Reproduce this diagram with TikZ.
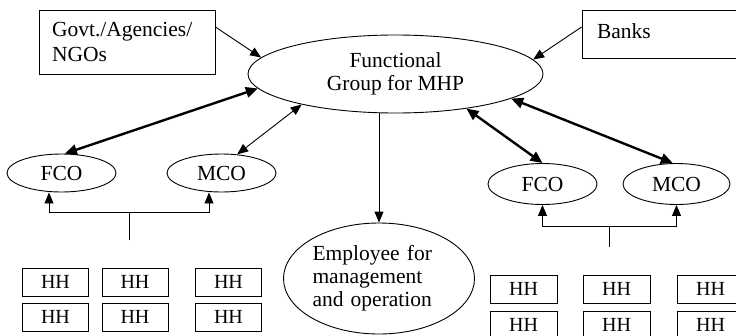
\documentclass[tikz,border=0pt]{standalone}
\usepackage{fontspec}
\setmainfont{Liberation Serif}
\usetikzlibrary{arrows.meta,shapes.geometric}

\tikzset{
  txt/.style={font=\fontsize{21.5}{23}\selectfont},
  box/.style={draw, rectangle, line width=0.9pt, inner sep=0pt, txt},
  oval/.style={draw, ellipse, line width=0.9pt, inner sep=0pt, txt},
  hh/.style={box, minimum width=66, minimum height=28, font=\fontsize{20}{22}\selectfont},
  wire/.style={line width=0.9pt},
  arr/.style={line width=0.9pt, -{Triangle[length=11pt,width=9pt]}},
  darr/.style={line width=0.9pt, {Triangle[length=11pt,width=9pt]}-{Triangle[length=11pt,width=9pt]}},
  tdarr/.style={line width=2.4pt, {Triangle[length=12pt,width=10.5pt]}-{Triangle[length=12pt,width=10.5pt]}},
}

\begin{document}
\begin{tikzpicture}[x=1pt, y=-1pt]
  \useasboundingbox (0,0) rectangle (736,335);
  \clip (0,0) rectangle (736,335);

  % external partners
  \node[box, minimum width=176, minimum height=64, text width=150, inner xsep=13,
        align=left, font=\fontsize{21.5}{25}\selectfont] (govt) at (127,42)
        {Govt./Agencies/\\NGOs};
  \node[box, minimum width=163, minimum height=48, text width=133, inner xsep=15,
        inner ysep=0pt, text height=28, text depth=20, align=left] (banks) at (663.5,34)
        {Banks};

  % central group
  \node[oval, minimum width=295, minimum height=78, align=center] (func) at (395.5,74)
        {Functional\\Group for MHP};

  % cooperatives
  \node[oval, minimum width=109, minimum height=38] (fco1) at (61.5,173) {FCO};
  \node[oval, minimum width=109, minimum height=38] (mco1) at (221.5,173) {MCO};
  \node[oval, minimum width=109, minimum height=41] (fco2) at (542.5,184) {FCO};
  \node[oval, minimum width=107, minimum height=41] (mco2) at (676.5,184) {MCO};

  % employees
  \node[oval, minimum width=191, minimum height=111, text width=133, align=left] (emp)
        at (379,278.5) {Employee for\\management\\and operation};

  % households, left cluster
  \node[hh] (hl11) at (55.5,282) {HH};
  \node[hh] (hl12) at (135,282) {HH};
  \node[hh] (hl13) at (228.5,282) {HH};
  \node[hh] (hl21) at (55.5,317) {HH};
  \node[hh] (hl22) at (135,317) {HH};
  \node[hh] (hl23) at (228.5,317) {HH};

  % households, right cluster
  \node[hh, minimum width=67] (hr11) at (523.5,289) {HH};
  \node[hh, minimum width=67] (hr12) at (616.5,289) {HH};
  \node[hh, minimum width=67] (hr13) at (710.5,289) {HH};
  \node[hh, minimum width=67] (hr21) at (523.5,325) {HH};
  \node[hh, minimum width=67] (hr22) at (616.5,325) {HH};
  \node[hh, minimum width=67] (hr23) at (710.5,325) {HH};

  % support flows into the group
  \draw[arr] ([yshift=15pt]govt.east) -- (func.173);
  \draw[arr] ([yshift=7pt]banks.west) -- (func.6);

  % links between group and cooperatives
  \draw[tdarr] (fco1.80) -- (func.186);
  \draw[darr] (mco1.50) -- (func.198);
  \draw[tdarr] (func.334) -- (fco2.north);
  \draw[tdarr] (func.348) -- (mco2.100);

  % group to employees
  \draw[arr] (func.south -| emp.north) -- (emp.north);

  % households feeding the cooperatives
  \coordinate (lstem) at (129,240);
  \coordinate (ljoin) at (129,212);
  \draw[wire] (lstem) -- (ljoin);
  \draw[arr] (ljoin) -| ([xshift=-12.5pt]fco1.south);
  \draw[arr] (ljoin) -| ([xshift=-12.5pt]mco1.south);

  \coordinate (rstem) at (609,247);
  \coordinate (rjoin) at (609,226);
  \draw[wire] (rstem) -- (rjoin);
  \draw[arr] (rjoin) -| (fco2.south);
  \draw[arr] (rjoin) -| (mco2.south);
\end{tikzpicture}
\end{document}
